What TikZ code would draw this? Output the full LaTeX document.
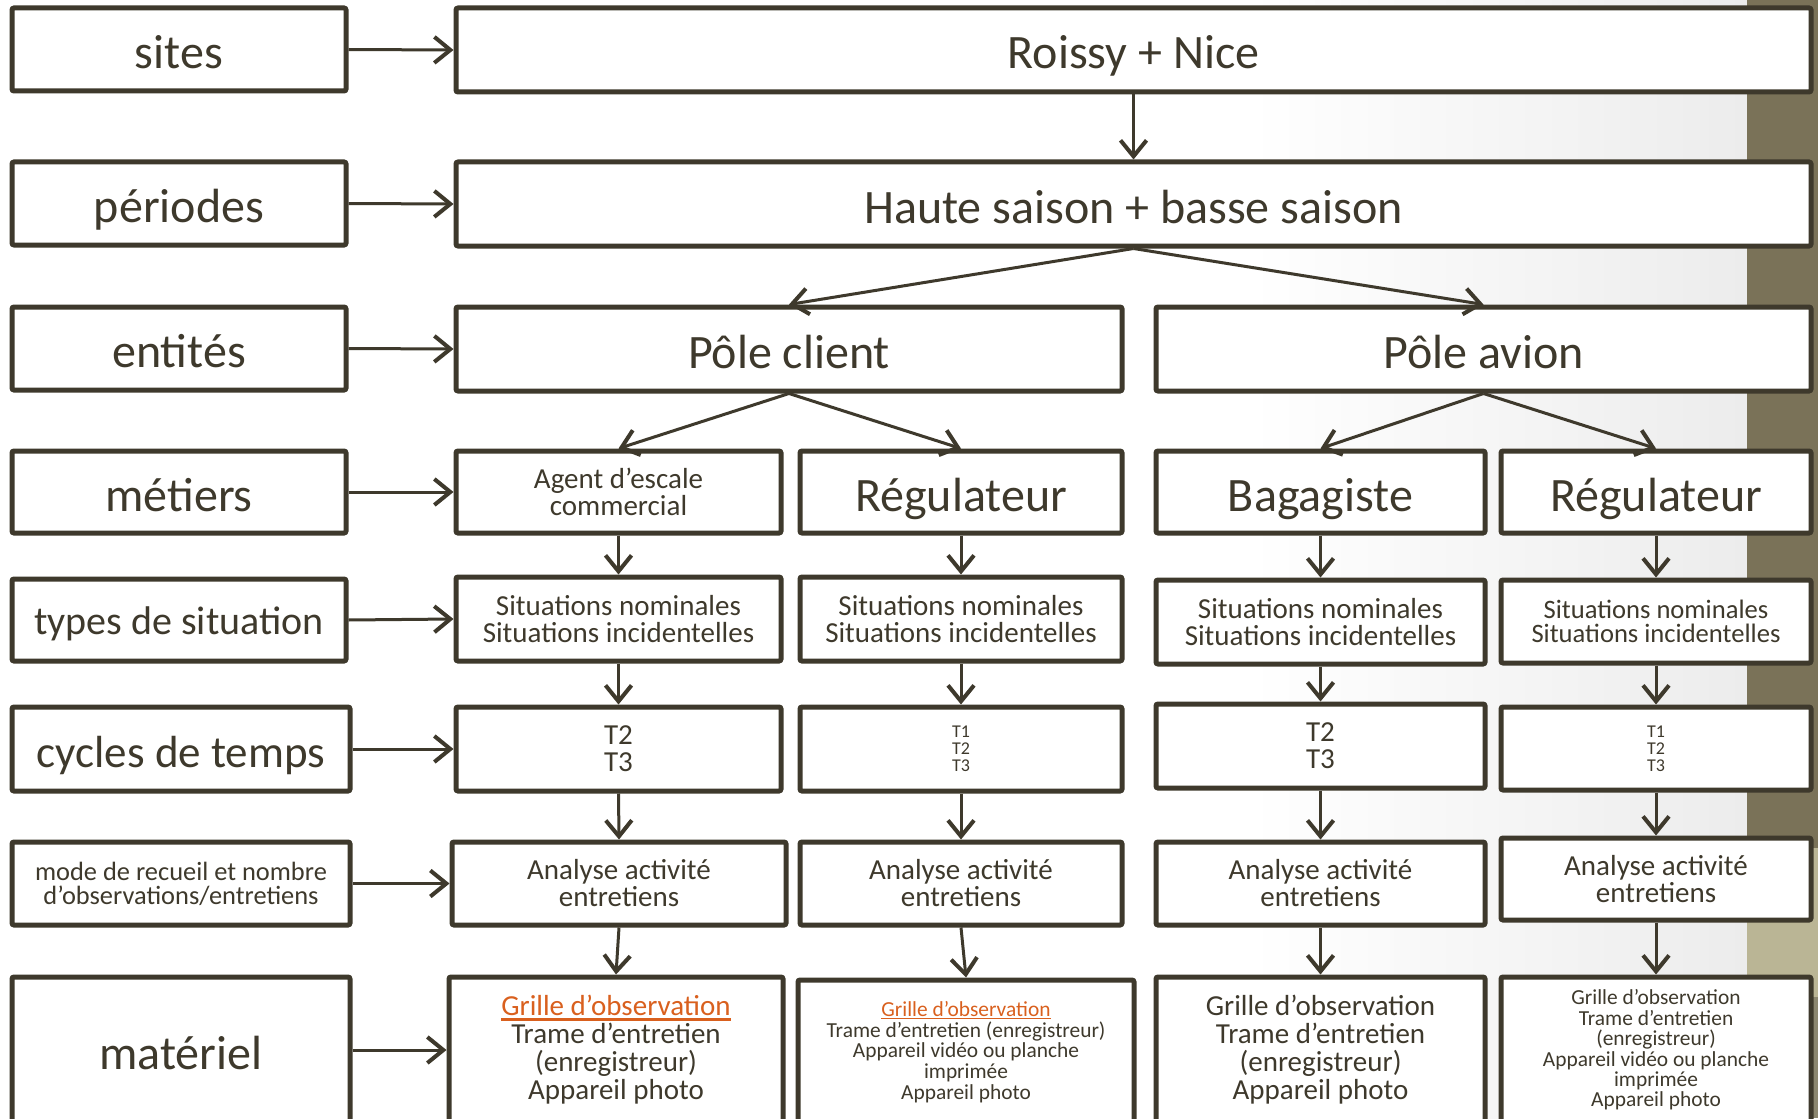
\documentclass[tikz,border=0pt]{standalone}
\usepackage{fontspec}
\setmainfont{Carlito}
\usetikzlibrary{arrows.meta}
\definecolor{ink}{RGB}{62,57,44}
\definecolor{olive}{RGB}{122,114,88}
\definecolor{tanband}{RGB}{186,181,149}
\definecolor{lowband}{RGB}{140,135,112}
\definecolor{bggray}{RGB}{236,236,236}
\definecolor{orng}{RGB}{217,96,30}
\newcommand\myul[3]{\leavevmode\setbox0=\hbox{#3}\rlap{\textcolor{orng}{\rule[-#1]{\wd0}{#2}}}\box0}
\newcommand\mybox[7][]{\node[box,#1,minimum width={(#5-#3)*0.5pt},minimum height={(#6-#4)*0.5pt}] (#2) at ({(#3+#5)/2},{(#4+#6)/2}) {#7};}
\tikzset{
  box/.style={draw=ink, line width=2.5pt, fill=white, rounded corners=1pt, inner sep=0pt, align=center, text=ink},
  arr/.style={draw=ink, line width=1.5pt, -{Straight Barb[length=8pt,width=13pt,line width=2pt]}},
  big/.style={font=\fontsize{24}{24}\selectfont, text height=24pt, text depth=5pt},
  mid/.style={font=\fontsize{14.5}{13.5}\selectfont},
  tiny/.style={font=\fontsize{9}{8.5}\selectfont},
  small/.style={font=\fontsize{10.7}{10.2}\selectfont},
  matA/.style={font=\fontsize{14.5}{14}\selectfont},
}
\begin{document}
\begin{tikzpicture}[x=0.5pt,y=-0.5pt]
\useasboundingbox (0,0) rectangle (1818,1118);
\clip (0,0) rectangle (1818,1118);
% background
\fill[white] (0,0) rectangle (1250,1118);
\fill[left color=white, right color=bggray] (1249,0) rectangle (1748,1118);
\fill[olive] (1747,0) rectangle (1818,848);
\fill[tanband] (1747,848) rectangle (1818,997);
\fill[lowband] (1747,997) rectangle (1818,1118);

% left column
\mybox[big]{lsites}{12}{8}{346}{91}{sites}
\mybox[big]{lper}{12}{162}{346}{245}{périodes}
\mybox[big]{lent}{12}{307}{346}{390}{entités}
\mybox[big]{lmet}{12}{451}{346}{533}{métiers}
\mybox[font=\fontsize{20}{20}\selectfont, text height=18pt, text depth=4pt]{ltyp}{12}{579}{346}{661}{types de situation}
\mybox[font=\fontsize{22.5}{22.5}\selectfont, text height=22.5pt, text depth=4.5pt]{lcyc}{12}{707}{350}{791}{cycles de temps}
\mybox[font=\fontsize{13.2}{12}\selectfont]{lmode}{12}{842}{350}{925}{mode de recueil et nombre\\d’observations/entretiens}
\mybox[big]{lmat}{12}{977}{350}{1123}{matériel}

% main column
\mybox[big]{sites}{456}{8}{1811}{92}{Roissy + Nice}
\mybox[big]{per}{456}{162}{1811}{246}{Haute saison + basse saison}
\mybox[big]{pclient}{456}{307}{1122}{391}{Pôle client}
\mybox[big]{pavion}{1156}{307}{1811}{391}{Pôle avion}

\mybox[mid]{m1}{456}{451}{781}{533}{Agent d’escale\\commercial}
\mybox[big]{m2}{800}{451}{1122}{533}{Régulateur}
\mybox[big]{m3}{1156}{451}{1485}{533}{Bagagiste}
\mybox[big]{m4}{1501}{451}{1811}{533}{Régulateur}

\mybox[mid]{s1}{456}{577}{781}{661}{Situations nominales\\Situations incidentelles}
\mybox[mid]{s2}{800}{577}{1122}{661}{Situations nominales\\Situations incidentelles}
\mybox[mid]{s3}{1156}{580}{1485}{664}{Situations nominales\\Situations incidentelles}
\mybox[font=\fontsize{13.3}{12}\selectfont]{s4}{1501}{580}{1811}{663}{Situations nominales\\Situations incidentelles}

\mybox[mid]{t1}{456}{707}{781}{791}{T2\\T3}
\mybox[tiny]{t2}{800}{707}{1122}{791}{T1\\T2\\T3}
\mybox[mid]{t3}{1156}{704}{1485}{788}{T2\\T3}
\mybox[tiny]{t4}{1501}{707}{1811}{790}{T1\\T2\\T3}

\mybox[mid]{a1}{452}{842}{786}{925}{Analyse activité\\entretiens}
\mybox[mid]{a2}{800}{842}{1122}{925}{Analyse activité\\entretiens}
\mybox[mid]{a3}{1156}{842}{1485}{925}{Analyse activité\\entretiens}
\mybox[mid]{a4}{1501}{838}{1811}{920}{Analyse activité\\entretiens}

\mybox[matA]{x1}{449}{977}{783}{1123}{\myul{2.6pt}{1.4pt}{\textcolor{orng}{Grille d’observation}}\\Trame d’entretien\\(enregistreur)\\Appareil photo}
\mybox[small,font=\fontsize{10.7}{10.4}\selectfont]{x2}{798}{980}{1134}{1124}{\myul{1.6pt}{0.7pt}{\textcolor{orng}{Grille d’observation}}\\Trame d’entretien (enregistreur)\\Appareil vidéo ou planche\\imprimée\\Appareil photo}
\mybox[matA]{x3}{1156}{977}{1485}{1123}{Grille d’observation\\Trame d’entretien\\(enregistreur)\\Appareil photo}
\mybox[small]{x4}{1501}{977}{1811}{1123}{Grille d’observation\\Trame d’entretien\\(enregistreur)\\Appareil vidéo ou planche\\imprimée\\Appareil photo}

% horizontal arrows
\draw[arr] (lsites.east) -- (sites.west);
\draw[arr] (lper.east) -- (per.west);
\draw[arr] (lent.east) -- (pclient.west);
\draw[arr] (lmet.east) -- (m1.west);
\draw[arr] (ltyp.east) -- (s1.west);
\draw[arr] (lcyc.east) -- (t1.west);
\draw[arr] (lmode.east) -- (a1.west);
\draw[arr] (lmat.east) -- (x1.west);

% tree arrows
\draw[arr] (sites.south) -- (per.north);
\draw[arr] (per.south) -- (pclient.north);
\draw[arr] (per.south) -- (pavion.north);
\draw[arr] (pclient.south) -- (m1.north);
\draw[arr] (pclient.south) -- (m2.north);
\draw[arr] (pavion.south) -- (m3.north);
\draw[arr] (pavion.south) -- (m4.north);
\foreach \c in {1,2,3,4}{
  \draw[arr] (m\c.south) -- (s\c.north);
  \draw[arr] (s\c.south) -- (t\c.north);
  \draw[arr] (t\c.south) -- (a\c.north);
  \draw[arr] (a\c.south) -- (x\c.north);
}
\end{tikzpicture}
\end{document}
